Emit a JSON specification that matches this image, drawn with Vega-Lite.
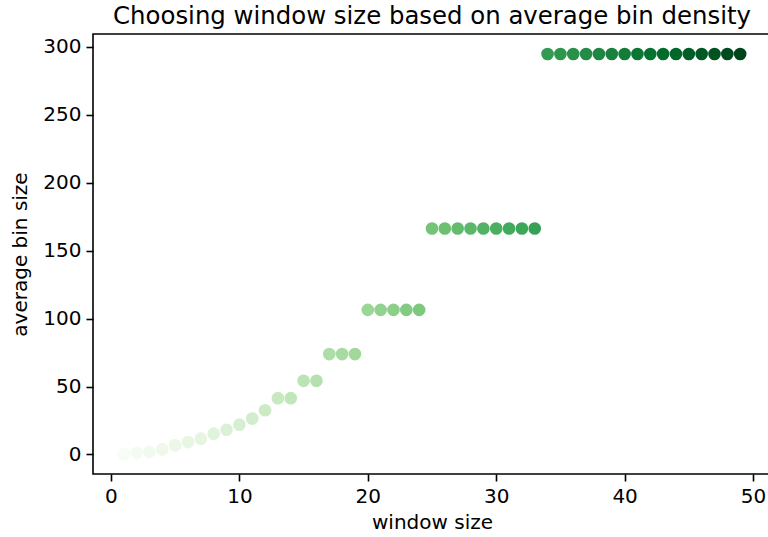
{
  "$schema": "https://vega.github.io/schema/vega-lite/v6.json",
  "autosize": "none",
  "width": 678,
  "height": 440,
  "padding": {"left": 93, "top": 34, "right": 0, "bottom": 63},
  "background": "white",
  "title": {"text": "Choosing window size based on average bin density", "font": "DejaVu Sans", "fontSize": 24.4, "fontWeight": "normal", "color": "black", "offset": 5, "anchor": "middle"},
  "config": {
    "view": {"stroke": "black", "strokeWidth": 1.6},
    "axis": {"labelFont": "DejaVu Sans", "titleFont": "DejaVu Sans", "labelFontSize": 20, "titleFontSize": 20, "titleFontWeight": "normal", "labelColor": "black", "titleColor": "black", "tickColor": "black", "tickSize": 7, "tickWidth": 1.6, "domain": false, "grid": false, "labelPadding": 5}
  },
  "data": {"values": [
    {"w": 1, "b": 0.3}, {"w": 2, "b": 1.0}, {"w": 3, "b": 2.0}, {"w": 4, "b": 3.7}, {"w": 5, "b": 6.7},
    {"w": 6, "b": 9.1}, {"w": 7, "b": 11.6}, {"w": 8, "b": 15.3}, {"w": 9, "b": 18.2}, {"w": 10, "b": 21.9},
    {"w": 11, "b": 26.4}, {"w": 12, "b": 32.5}, {"w": 13, "b": 41.4}, {"w": 14, "b": 41.4}, {"w": 15, "b": 54.2},
    {"w": 16, "b": 54.2}, {"w": 17, "b": 73.9}, {"w": 18, "b": 73.9}, {"w": 19, "b": 73.9}, {"w": 20, "b": 106.4},
    {"w": 21, "b": 106.4}, {"w": 22, "b": 106.4}, {"w": 23, "b": 106.4}, {"w": 24, "b": 106.4}, {"w": 25, "b": 166.3},
    {"w": 26, "b": 166.3}, {"w": 27, "b": 166.3}, {"w": 28, "b": 166.3}, {"w": 29, "b": 166.3}, {"w": 30, "b": 166.3},
    {"w": 31, "b": 166.3}, {"w": 32, "b": 166.3}, {"w": 33, "b": 166.3}, {"w": 34, "b": 294.8}, {"w": 35, "b": 294.8},
    {"w": 36, "b": 294.8}, {"w": 37, "b": 294.8}, {"w": 38, "b": 294.8}, {"w": 39, "b": 294.8}, {"w": 40, "b": 294.8},
    {"w": 41, "b": 294.8}, {"w": 42, "b": 294.8}, {"w": 43, "b": 294.8}, {"w": 44, "b": 294.8}, {"w": 45, "b": 294.8},
    {"w": 46, "b": 294.8}, {"w": 47, "b": 294.8}, {"w": 48, "b": 294.8}, {"w": 49, "b": 294.8}
  ]},
  "mark": {"type": "circle", "size": 160, "opacity": 1},
  "encoding": {
    "x": {"field": "w", "type": "quantitative", "scale": {"domain": [-1.4, 51.4], "nice": false, "zero": false},
          "axis": {"values": [0, 10, 20, 30, 40, 50], "title": "window size", "titlePadding": 6}},
    "y": {"field": "b", "type": "quantitative", "scale": {"domain": [-14.4, 309.5], "nice": false, "zero": false},
          "axis": {"values": [0, 50, 100, 150, 200, 250, 300], "title": "average bin size", "titlePadding": 12}},
    "color": {"field": "w", "type": "quantitative", "scale": {"domain": [1, 7, 13, 19, 25, 31, 37, 43, 49], "range": ["#f7fcf5", "#e5f5e0", "#c7e9c0", "#a1d99b", "#74c476", "#41ab5d", "#238b45", "#006d2c", "#00441b"], "interpolate": "rgb"}, "legend": null}
  }
}
